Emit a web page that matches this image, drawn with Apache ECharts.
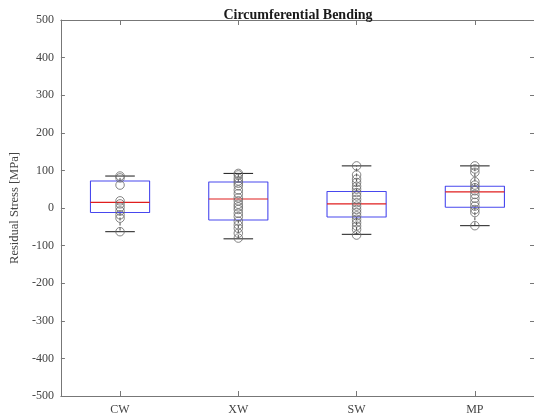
<!DOCTYPE html>
<html>
<head>
<meta charset="utf-8">
<script src="https://cdn.jsdelivr.net/npm/echarts@6/dist/echarts.min.js"></script>
<style>
  html, body { margin: 0; padding: 0; background: #fff; }
  #chart { width: 534px; height: 419px; }
</style>
</head>
<body>
<div id="chart"></div>
<script>
// Weld / material locations
const categories = ['CW', 'XW', 'SW', 'MP'];

// Box statistics per location: [lower whisker, Q1, median, Q3, upper whisker] in MPa
const cwStats = [-63, -12, 15, 72, 85];
const xwStats = [-82, -32, 24, 69, 92];
const swStats = [-70, -24, 11, 44, 112];
const mpStats = [-47, 2, 43, 58, 112];

// Individual measurements per location (MPa)
const cwPoints = [85, 80, 61, 19, 11, 2, -8, -18, -27, -63];
const xwPoints = [92, 88, 79, 72, 66, 59, 48, 38, 27, 19, 10, 3, -4, -14, -23, -35, -45, -54, -67, -80];
const swPoints = [112, 88, 77, 68, 58, 50, 41, 32, 23, 14, 5, -4, -12, -21, -30, -39, -48, -57, -72];
const mpPoints = [112, 104, 95, 70, 61, 54, 46, 36, 26, 15, 5, -4, -12, -47];

// Y axis range and step
const yMin = -500, yMax = 500, yStep = 100;

// Box half-width and whisker-cap half-width, in category units
const BOX_HALF = 0.25;
const CAP_HALF = 0.125;

const FONT = '"Liberation Serif", "DejaVu Serif", serif';
const AXIS_COLOR = '#777';
const LABEL_COLOR = '#444';
const BOX_BLUE = '#4848ee';
const MEDIAN_RED = '#e01e1e';
const WHISKER = '#1a1a1a';

const allStats = [cwStats, xwStats, swStats, mpStats];
const allPoints = [cwPoints, xwPoints, swPoints, mpPoints];

const pointData = [];
allPoints.forEach((pts, i) => pts.forEach(v => pointData.push([i, v])));

// one line series per drawn stroke, placed on the hidden numeric x axis
function stroke(data, color, width, type, z) {
  return {
    type: 'line',
    xAxisIndex: 2,
    yAxisIndex: 0,
    data: data,
    symbol: 'none',
    showSymbol: false,
    silent: true,
    animation: false,
    lineStyle: { color: color, width: width, type: type || 'solid' },
    emphasis: { disabled: true },
    z: z
  };
}

const boxSeries = [];
allStats.forEach((s, i) => {
  const [lo, q1, med, q3, hi] = s;
  boxSeries.push(stroke([[i, q3], [i, hi]], WHISKER, 0.8, [3, 2], 2));
  boxSeries.push(stroke([[i, q1], [i, lo]], WHISKER, 0.8, [3, 2], 2));
  boxSeries.push(stroke([[i - CAP_HALF, hi], [i + CAP_HALF, hi]], WHISKER, 1, 'solid', 3));
  boxSeries.push(stroke([[i - CAP_HALF, lo], [i + CAP_HALF, lo]], WHISKER, 1, 'solid', 3));
  boxSeries.push(stroke([
    [i - BOX_HALF, q1], [i + BOX_HALF, q1], [i + BOX_HALF, q3], [i - BOX_HALF, q3], [i - BOX_HALF, q1]
  ], BOX_BLUE, 1.1, 'solid', 3));
  boxSeries.push(stroke([[i - BOX_HALF, med], [i + BOX_HALF, med]], MEDIAN_RED, 1.2, 'solid', 4));
});

const tickStyle = { show: true, alignWithLabel: true, inside: true, length: 5, interval: 0, lineStyle: { color: AXIS_COLOR, width: 1 } };

const chart = echarts.init(document.getElementById('chart'), null, { renderer: 'canvas' });

chart.setOption({
  animation: false,
  backgroundColor: '#fff',
  title: {
    text: 'Circumferential Bending',
    left: 293,
    top: 3,
    textAlign: 'center',
    textStyle: { fontFamily: FONT, fontWeight: 'bold', fontSize: 14, color: '#1a1a1a' }
  },
  grid: { left: 60, right: -2, top: 20, bottom: 23, containLabel: false },
  xAxis: [
    {
      type: 'category',
      data: categories,
      boundaryGap: true,
      axisLine: { show: true, onZero: false, lineStyle: { color: AXIS_COLOR, width: 1 } },
      axisTick: tickStyle,
      axisLabel: { margin: 8, interval: 0, fontFamily: FONT, fontSize: 12, color: LABEL_COLOR },
      splitLine: { show: false }
    },
    {
      type: 'category',
      position: 'top',
      data: categories,
      boundaryGap: true,
      axisLine: { show: true, onZero: false, lineStyle: { color: AXIS_COLOR, width: 1 } },
      axisTick: tickStyle,
      axisLabel: { show: false },
      splitLine: { show: false }
    },
    {
      // numeric twin of the category axis: category i sits at value i
      type: 'value',
      min: -0.5,
      max: categories.length - 0.5,
      show: false,
      splitLine: { show: false }
    }
  ],
  yAxis: [
    {
      type: 'value',
      min: yMin, max: yMax, interval: yStep,
      name: 'Residual Stress [MPa]',
      nameLocation: 'middle',
      nameGap: 38,
      nameRotate: 90,
      nameTextStyle: { fontFamily: FONT, fontSize: 12.5, color: LABEL_COLOR },
      axisLine: { show: true, onZero: false, lineStyle: { color: AXIS_COLOR, width: 1 } },
      axisTick: { show: true, inside: true, length: 4, lineStyle: { color: AXIS_COLOR } },
      axisLabel: { margin: 7, fontFamily: FONT, fontSize: 12, color: LABEL_COLOR },
      splitLine: { show: false }
    },
    {
      type: 'value',
      position: 'right',
      min: yMin, max: yMax, interval: yStep,
      axisLine: { show: true, onZero: false, lineStyle: { color: AXIS_COLOR, width: 1 } },
      axisTick: { show: true, inside: true, length: 4, lineStyle: { color: AXIS_COLOR } },
      axisLabel: { show: false },
      splitLine: { show: false }
    }
  ],
  series: boxSeries.concat([
    {
      type: 'scatter',
      name: 'points',
      xAxisIndex: 2,
      yAxisIndex: 0,
      silent: true,
      emphasis: { disabled: true },
      data: pointData,
      symbol: 'circle',
      symbolSize: 8.5,
      itemStyle: { color: 'rgba(0,0,0,0)', borderColor: '#666', borderWidth: 1 },
      z: 5
    }
  ])
});
</script>
</body>
</html>
